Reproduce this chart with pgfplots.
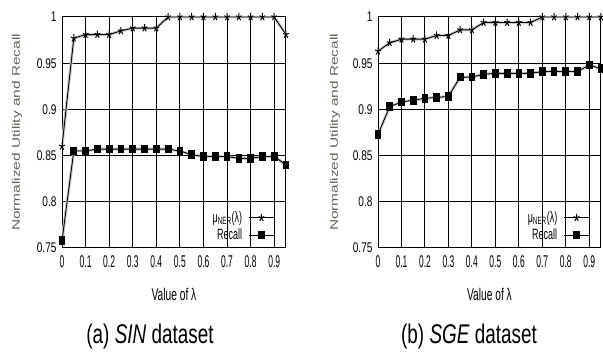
\documentclass[border=0pt]{standalone}
\usepackage{fontspec}
\setmainfont{Liberation Sans}[FakeStretch=0.6]
\newfontfamily\capfont{Liberation Sans}[FakeStretch=0.7]
\newfontfamily\xtfont{Liberation Sans}[FakeStretch=0.5]
\newfontfamily\ytfont{Liberation Sans}[FakeStretch=0.72]
\newfontfamily\ylfont{Liberation Sans}[FakeStretch=1.4]
\usepackage{pgfplots}
\pgfplotsset{compat=1.18}
\definecolor{labcol}{RGB}{105,98,82}
\pgfplotsset{
  myax/.style={
    scale only axis, width=224pt, height=231pt,
    xmin=0, xmax=0.95, ymin=0.75, ymax=1,
    xtick={0,0.1,0.2,0.3,0.4,0.5,0.6,0.7,0.8,0.9},
    xticklabels={0,0.1,0.2,0.3,0.4,0.5,0.6,0.7,0.8,0.9},
    ytick={0.75,0.8,0.85,0.9,0.95,1},
    yticklabels={0.75,0.8,0.85,0.9,0.95,1},
    /pgf/number format/assume math mode=true,
    xticklabel style={font=\xtfont\fontsize{17}{18}\selectfont, yshift=-4pt},
    yticklabel style={font=\ytfont\fontsize{14}{15}\selectfont, xshift=-2pt},
    major tick length=0pt,
    grid=major, grid style={black, line width=1pt},
    axis line style={black, line width=1pt},
    xlabel={Value of λ}, ylabel={\ylfont Normalized Utility and Recall},
    xlabel style={font=\fontsize{17}{18}\selectfont, at={(axis description cs:0.5,-0.199)}, anchor=center},
    ylabel style={font=\fontsize{11}{12}\selectfont, color=labcol, anchor=center},
    legend style={draw=none, fill=none, at={(0.955,0.015)}, anchor=south east,
      font=\fontsize{15}{16}\selectfont, row sep=1pt, column sep=4pt, inner sep=1pt},
    legend cell align=right, legend plot pos=right,
    legend image code/.code={\draw[mark repeat=2,mark phase=2,#1] plot coordinates {(0cm,0cm) (0.45cm,0cm) (0.9cm,0cm)};},
    shadow/.style={gray!40, line width=3pt, forget plot},
    ut/.style={black, line width=0.9pt, mark=star, mark size=4pt, mark options={line width=1pt, xscale=0.75}},
    rc/.style={black, line width=0.9pt, mark=square*, mark size=3.8pt, mark options={xscale=0.75}},
  }
}
\pgfplotstableread{
x u r
0 0.860 0.758
0.05 0.977 0.855
0.1 0.981 0.855
0.15 0.981 0.857
0.2 0.981 0.857
0.25 0.985 0.857
0.3 0.988 0.857
0.35 0.988 0.857
0.4 0.988 0.857
0.45 1.0 0.857
0.5 1.0 0.855
0.55 1.0 0.851
0.6 1.0 0.849
0.65 1.0 0.849
0.7 1.0 0.849
0.75 1.0 0.847
0.8 1.0 0.847
0.85 1.0 0.849
0.9 1.0 0.849
0.95 0.981 0.840
}\sin
\pgfplotstableread{
x u r
0 0.963 0.873
0.05 0.972 0.903
0.1 0.976 0.908
0.15 0.976 0.910
0.2 0.976 0.912
0.25 0.980 0.913
0.3 0.980 0.914
0.35 0.986 0.935
0.4 0.986 0.935
0.45 0.994 0.938
0.5 0.994 0.939
0.55 0.994 0.939
0.6 0.994 0.939
0.65 0.994 0.939
0.7 1.0 0.941
0.75 1.0 0.941
0.8 1.0 0.941
0.85 1.0 0.941
0.9 1.0 0.948
0.95 1.0 0.944
}\sge
\begin{document}
\begin{tikzpicture}
\path[use as bounding box] (0,0) rectangle (603pt,353pt);
\begin{axis}[myax, at={(62pt,105pt)}, anchor=south west,
  ylabel style={at={(axis description cs:-0.201,0.5)}}]
\addplot[shadow] table[x=x,y=u]{\sin};
\addplot[shadow] table[x=x,y=r]{\sin};
\addplot[ut] table[x=x,y=u]{\sin};
\addlegendentry{μ\textsubscript{NER}(λ)}
\addplot[rc] table[x=x,y=r]{\sin};
\addlegendentry{Recall}
\end{axis}
\begin{axis}[myax, at={(378pt,105pt)}, anchor=south west, width=223pt,
  ylabel style={at={(axis description cs:-0.193,0.5)}}]
\addplot[shadow] table[x=x,y=u]{\sge};
\addplot[shadow] table[x=x,y=r]{\sge};
\addplot[ut] table[x=x,y=u]{\sge};
\addlegendentry{μ\textsubscript{NER}(λ)}
\addplot[rc] table[x=x,y=r]{\sge};
\addlegendentry{Recall}
\end{axis}
\node[font=\capfont\fontsize{27}{28}\selectfont] at (150pt,16pt) {(a) \textit{SIN} dataset};
\node[font=\capfont\fontsize{27}{28}\selectfont] at (469pt,16pt) {(b) \textit{SGE} dataset};
\end{tikzpicture}
\end{document}
